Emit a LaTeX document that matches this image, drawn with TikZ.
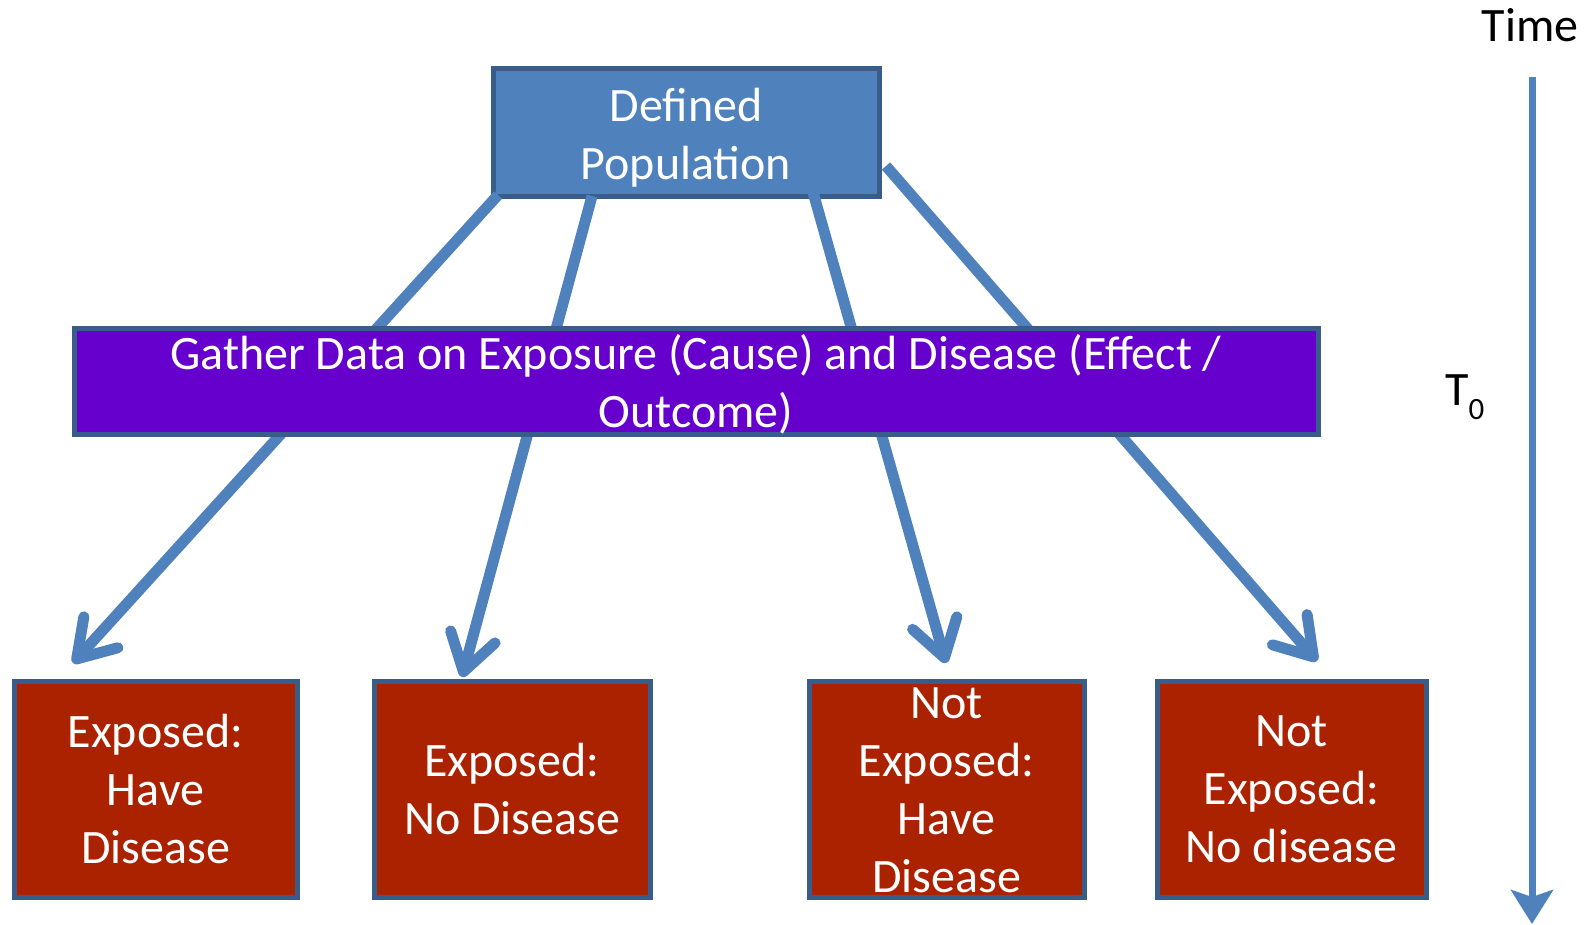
\documentclass[tikz,border=0pt]{standalone}
\usepackage{fontspec}
\setmainfont{Carlito}
\usetikzlibrary{arrows.meta}
\usetikzlibrary{calc}
\newcommand{\boxfont}{\fontsize{48}{58}\selectfont}
\definecolor{popblue}{RGB}{79,129,189}
\definecolor{edgeblue}{RGB}{56,93,138}
\definecolor{gatherviolet}{RGB}{102,0,204}
\definecolor{outcomered}{RGB}{170,34,0}
\tikzset{box/.style={draw=edgeblue,line width=5pt,fill=#1,inner sep=0pt},box/.default=popblue}
\tikzset{outcome/.style={box=outcomered,minimum width=#1,minimum height=216pt}}
\tikzset{boxtext/.style={text=white,font=\boxfont,align=center,inner sep=0pt}}
\tikzset{branch/.style={popblue,line width=11pt,
		-{Straight Barb[length=36pt,width=46pt,round]}}}
\tikzset{timeline/.style={popblue,line width=7pt,
		-{Stealth[length=34pt,width=42pt,inset=7pt]}}}

\begin{document}
\begin{tikzpicture}[x=1pt,y=-1pt]

		\useasboundingbox (0,0) rectangle (1593,925);

		\node [box,minimum width=386pt,minimum height=128pt] (defpop) at (686,133) {};
		\node [boxtext] (defpoptxt) at ($(defpop)+(0,5)$) {Defined\\Population};

		\coordinate (s1) at (498,195);
		\coordinate (s2) at (592,196);
		\coordinate (s3) at (809,178);
		\coordinate (s4) at (886,166);

		\coordinate (t1) at (73,663);
		\coordinate (t2) at (462,677);
		\coordinate (t3) at (946,663);
		\coordinate (t4) at (1317,661);

		\draw [branch] (s1) -- (t1);
		\draw [branch] (s2) -- (t2);
		\draw [branch] (s3) -- (t3);
		\draw [branch] (s4) -- (t4);

		\node [box=gatherviolet,minimum width=1244pt,minimum height=105pt] (gather) at (696,381.5) {};
		\node [boxtext] (gathertxt) at ($(gather)+(0,3)$)
			{Gather Data on Exposure (Cause) and Disease (Effect /\\Outcome)};

		\node [outcome=283pt] (exphave) at (155.5,789) {};
		\node [outcome=276pt] (expno) at (512,789) {};
		\node [outcome=275pt] (notexphave) at (946.5,789) {};
		\node [outcome=269pt] (notexpno) at (1291.5,789) {};

		\node [boxtext] (exphavetxt) at (exphave) {Exposed:\\Have\\Disease};
		\node [boxtext] (expnotxt) at (expno) {Exposed:\\No Disease};
		\node [boxtext] (notexphavetxt) at ($(notexphave)+(0,1)$) {Not\\Exposed:\\Have\\Disease};
		\node [boxtext] (notexpnotxt) at (notexpno) {Not\\Exposed:\\No disease};

		% time axis
		\node [font=\boxfont,inner sep=0pt,anchor=base] (timelbl) at (1530,42) {Time};
		\coordinate (timetop) at (1532,77);
		\coordinate (timeend) at (1532,924);
		\draw [timeline] (timetop) -- (timeend);

		\node [font=\boxfont,inner sep=0pt,anchor=base west] (tzero) at (1445,405)
			{T\raisebox{-14pt}{\fontsize{31}{31}\selectfont 0}};

	\end{tikzpicture}
\end{document}
